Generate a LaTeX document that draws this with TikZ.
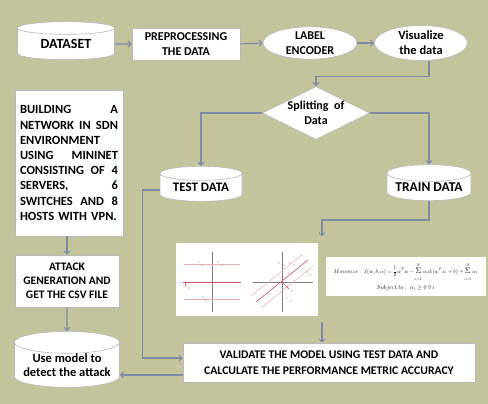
\documentclass[tikz,border=0pt]{standalone}
\usepackage{fontspec}
\setmainfont{Carlito}
\usepackage{graphicx}
\usetikzlibrary{shapes.geometric,arrows.meta,calc,fit}
\definecolor{olivebg}{RGB}{196,196,156}
\definecolor{linkblue}{RGB}{125,140,165}
\definecolor{svmred}{RGB}{205,80,90}
\definecolor{svmpink}{RGB}{238,175,180}
\newcommand{\sumtoN}{\mathop{\begin{array}{@{}c@{}}\scriptstyle N\\ \scalebox{1.5}{$\Sigma$}\\ \scriptstyle i=1\end{array}}}

\begin{document}
\begin{tikzpicture}[
      x=1pt, y=-1pt,
      every node/.style={font=\bfseries, fill=white, draw=gray!55, line width=0.6pt, inner sep=0pt, align=center},
      box/.style={rectangle},
      store/.style={cylinder, shape border rotate=90, aspect=0.25},
      oval/.style={ellipse},
      choice/.style={diamond, aspect=2, inner sep=-6pt},
      link/.style={draw=linkblue, line width=1.1pt, -{Straight Barb[length=3pt,width=6pt]}}
    ]

      % Background, also fixes the size of the page
      \fill[olivebg] (0,0) rectangle (488,404);
      \useasboundingbox (0,0) rectangle (488,404);

      % Top row
      \node[store, minimum width=97pt, minimum height=38pt, font=\bfseries\fontsize{14}{16}\selectfont] (dataset) at (66,44) {DATASET};
      \node[box, minimum width=108pt, minimum height=32pt, font=\bfseries\fontsize{12}{15}\selectfont] (prep) at (186,44) {PREPROCESSING\\THE DATA};
      \node[oval, minimum width=94pt, minimum height=32pt, font=\bfseries\fontsize{12}{15}\selectfont] (label) at (310,43) {LABEL\\ENCODER};
      \node[oval, minimum width=93pt, minimum height=35pt, font=\bfseries\fontsize{12.5}{15}\selectfont] (visual) at (421,43) {Visualize\\the data};

      % Splitting and the two data sets
      \node[choice, minimum width=107pt, minimum height=53pt, font=\bfseries\fontsize{12}{15.5}\selectfont] (split) at (316,113) {Splitting\ \ of\\Data};
      \node[store, minimum width=82pt, minimum height=35pt, font=\bfseries\fontsize{13}{15}\selectfont] (test) at (201,187.5) {TEST DATA};
      \node[store, minimum width=84pt, minimum height=36pt, font=\bfseries\fontsize{13.5}{15}\selectfont] (train) at (429,187) {TRAIN DATA};

      % Left column
      \node[box, minimum width=108pt, minimum height=146pt, text width=98pt, align=left, font=\bfseries\fontsize{12.5}{15.2}\selectfont] (build) at (69,163)
        {BUILDING \hfill A\\NETWORK \hfill IN \hfill SDN\\ENVIRONMENT\\USING \hfill MININET\\CONSISTING \hfill OF \hfill 4\\SERVERS, \hfill 6\\SWITCHES \hfill AND \hfill 8\\HOSTS WITH VPN.};
      \node[box, minimum width=104pt, minimum height=52pt, font=\bfseries\fontsize{11.5}{14}\selectfont] (attack) at (67,281) {ATTACK\\GENERATION AND\\GET THE CSV FILE};
      \node[store, minimum width=105pt, minimum height=40pt, font=\bfseries\fontsize{12.5}{14}\selectfont] (usemodel) at (67,365) {Use model to\\detect the attack};

      % Model: svm sketch and objective
      \node[box, draw=white, minimum width=141pt, minimum height=72pt] (svm) at (246.5,279) {};
      \node[box, draw=white, minimum width=159pt, minimum height=38pt, font=\normalfont] (formula) at (405.5,276)
        {\resizebox{144pt}{!}{$\displaystyle Minimize:\ J(w,b,\alpha)=\frac{1}{2}w^{T}w-\sumtoN\alpha_i d_i(w^{T}x_i+b)+\sumtoN\alpha_i$}\\[2pt]
         \resizebox{58pt}{!}{$Subject\ to:\ \alpha_i\geq 0\ \forall\, i$}};
      \node[fit=(svm)(formula), fill=none, draw=none, inner sep=6pt] (model) {};
      \coordinate (modelx) at (322,0);

      % left plot
      \draw[gray, line width=0.5pt] (212,252) -- (212,312);
      \draw[svmpink, line width=0.5pt] (184,264) -- (240,264) (184,299) -- (240,299);
      \draw[svmred, line width=0.6pt] (183,282) -- (241,282);
      \draw[svmred, line width=0.5pt, -{Stealth[length=1.5pt]}] (185,282) -- (186,287);
      \foreach \px/\py in {199/262, 202/265, 218/262, 222/265, 203/297, 206/300, 189/288}
        \fill[svmred!70!gray] (\px,\py) circle (0.7pt);
      % right plot
      \draw[gray, line width=0.5pt] (282,252) -- (282,312) (253,282) -- (313,282);
      \draw[svmpink, line width=0.5pt] (251,296) -- (303,254) (261,308) -- (313,266);
      \draw[svmred, line width=0.6pt] (256,302) -- (308,260);
      \draw[svmred, line width=0.5pt, -{Stealth[length=1.5pt]}] (282,282) -- (289,289);
      \foreach \px/\py in {279/263, 284/265, 290/263, 294/265, 307/272, 310/275, 287/298, 291/301, 292/291}
        \fill[svmred!70!gray] (\px,\py) circle (0.7pt);

      % Bottom row
      \node[box, minimum width=292pt, minimum height=39pt, font=\bfseries\fontsize{11.7}{16}\selectfont] (validate) at (329,362.5)
        {VALIDATE THE MODEL USING TEST DATA AND\\CALCULATE THE PERFORMANCE METRIC ACCURACY};

      % Connectors
      \draw[link] (dataset.east) -- (prep.west);
      \draw[link] (prep.east) -- (label.west);
      \draw[link] (label.east) -- (visual.west);
      \draw[link] (visual.south -| train) -- ++(0,16) -| (split.north);
      \draw[link] (split.west) -| (test.north);
      \draw[link] (split.east) -| (train.north);
      \draw[link] (train.south) -- ++(0,19) -| (model.north -| modelx);
      \draw[link] (model.south -| modelx) -- (validate.north -| modelx);
      \draw[link] ($(test.west)+(0,2.5)$) -- ++(-17,0) |- ($(validate.west)+(0,-4.5)$);
      \draw[link] ($(validate.west)+(0,12.5)$) coordinate (back) -- (back -| usemodel.east);
      \draw[link] (build.south -| attack.north) -- (attack.north);
      \draw[link] (attack.south) -- (usemodel.north);
    \end{tikzpicture}
\end{document}
